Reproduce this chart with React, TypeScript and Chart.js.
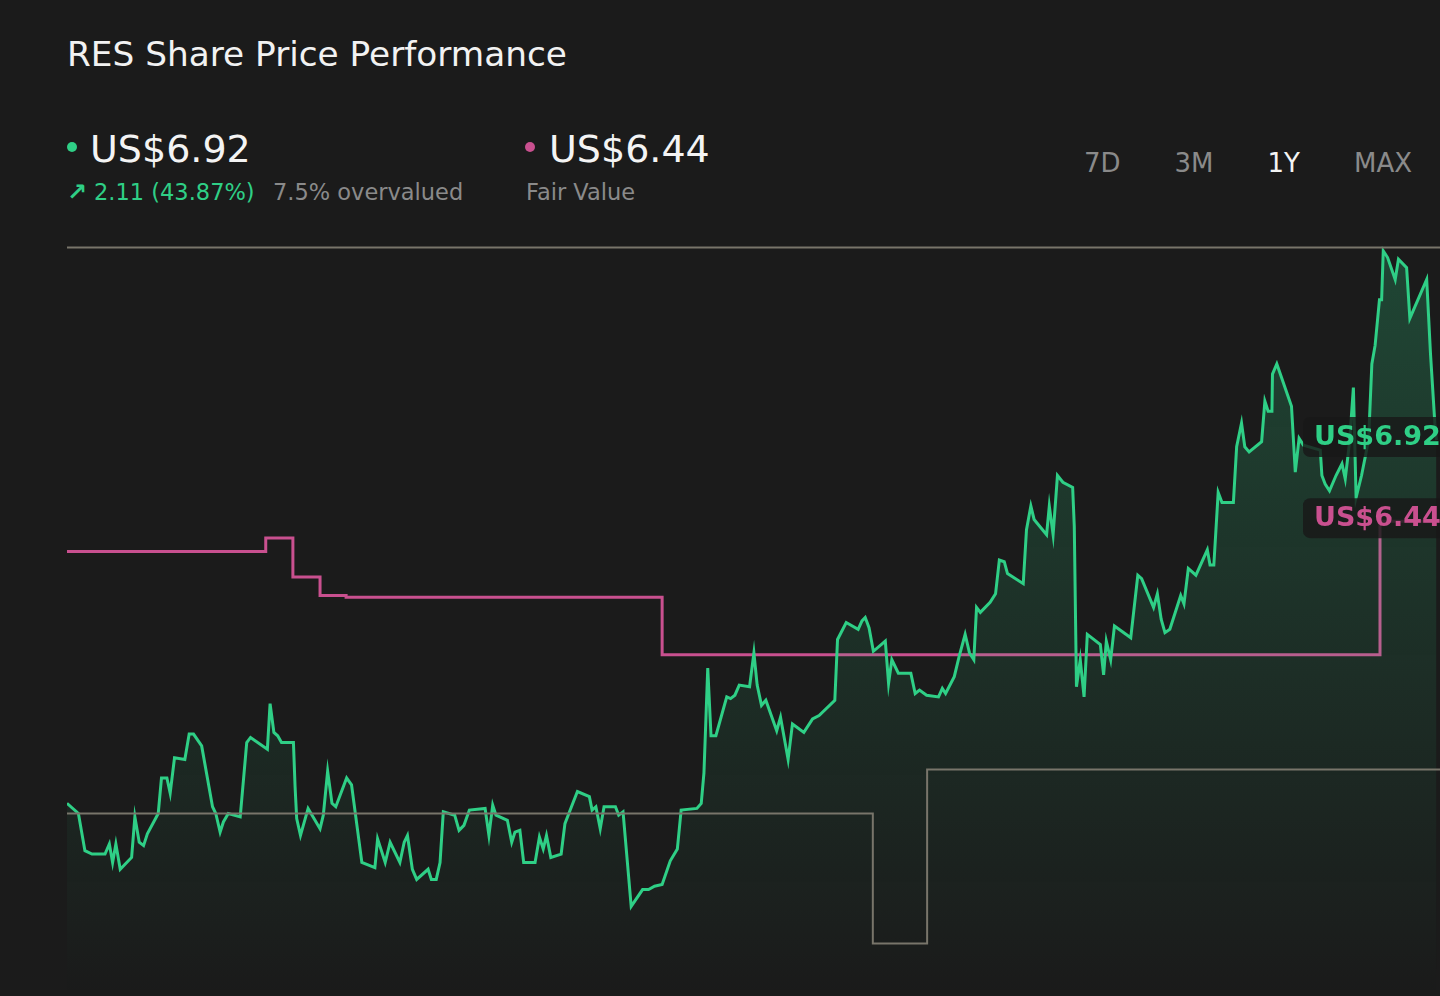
import { useEffect, useRef } from "react";
import { Chart, registerables } from "chart.js";

Chart.register(...registerables);

// trading day offsets (0 = one year ago) and closing prices
const days = [
  0, 2.1, 3.3, 4.6, 7.0, 7.8, 8.4, 9.0, 9.8, 11.9,
  12.5, 13.3, 14.1, 14.8, 16.8, 17.4, 18.4, 19.0, 19.8, 21.7,
  22.5, 23.3, 24.8, 26.8, 27.4, 28.2, 28.8, 29.7, 31.9, 33.1,
  33.8, 36.9, 37.4, 38.1, 38.8, 39.5, 41.7, 42.0, 42.3, 43.0,
  44.4, 46.6, 47.2, 48.0, 48.8, 49.5, 51.5, 52.4, 54.3, 56.7,
  57.2, 58.6, 59.5, 61.3, 62.1, 62.7, 63.6, 64.4, 66.5, 67.1,
  68.0, 68.7, 69.3, 71.4, 72.2, 73.1, 74.1, 77.0, 77.7, 78.4,
  79.0, 81.1, 81.9, 82.5, 83.4, 84.1, 86.2, 87.0, 87.7, 88.3,
  89.1, 91.0, 91.7, 92.9, 94.0, 96.2, 96.7, 97.4, 98.2, 98.9,
  101.0, 101.6, 102.4, 103.9, 106.0, 107.1, 108.2, 109.6, 111.1, 112.4,
  113.1, 116.0, 116.8, 117.3, 118.0, 118.6, 119.5, 121.5, 122.2, 123.0,
  123.8, 125.7, 126.5, 127.1, 127.9, 128.7, 130.7, 131.4, 132.8, 133.6,
  135.7, 137.3, 138.5, 141.4, 141.9, 143.5, 145.7, 146.4, 147.0, 147.7,
  148.5, 150.7, 151.3, 151.9, 153.1, 155.4, 156.2, 157.0, 158.3, 160.5,
  161.2, 161.8, 163.4, 164.3, 165.4, 166.2, 167.0, 167.5, 168.2, 170.0,
  171.0, 171.7, 172.6, 173.2, 176.1, 176.7, 177.5, 178.1, 180.4, 180.9,
  181.6, 182.4, 183.4, 185.2, 185.5, 185.9, 186.6, 187.3, 187.9, 190.3,
  190.9, 191.4, 192.2, 192.9, 195.9, 197.2, 197.9, 200.1, 200.8, 201.5,
  202.2, 203.1, 205.1, 205.7, 206.5, 207.9, 210.0, 210.5, 211.2, 212.0,
  212.7, 214.8, 215.4, 216.3, 216.9, 217.7, 220.0, 220.6, 221.2, 221.9,
  222.0, 222.8, 225.5, 226.2, 226.9, 227.7, 230.8, 231.1, 231.7, 232.5,
  233.7, 234.8, 235.4, 236.2, 236.9, 237.4, 238.4, 239.7, 240.3, 240.9,
  241.7, 242.1, 242.4, 243.2, 244.6, 245.2, 246.7, 247.3, 250.4, 251.1,
  251.9, 252.2,
];

const prices = [
  4.77, 4.71, 4.49, 4.47, 4.47, 4.53, 4.42, 4.53, 4.38, 4.45,
  4.69, 4.54, 4.52, 4.59, 4.71, 4.92, 4.92, 4.83, 5.04, 5.03,
  5.18, 5.18, 5.11, 4.75, 4.71, 4.60, 4.66, 4.71, 4.69, 5.13,
  5.16, 5.09, 5.36, 5.19, 5.17, 5.13, 5.13, 4.87, 4.68, 4.58,
  4.74, 4.62, 4.70, 4.96, 4.77, 4.75, 4.92, 4.88, 4.42, 4.39,
  4.56, 4.42, 4.54, 4.42, 4.54, 4.58, 4.38, 4.32, 4.38, 4.32,
  4.32, 4.42, 4.72, 4.70, 4.61, 4.64, 4.73, 4.74, 4.58, 4.76,
  4.70, 4.67, 4.54, 4.60, 4.61, 4.42, 4.42, 4.57, 4.50, 4.58,
  4.45, 4.47, 4.65, 4.75, 4.84, 4.81, 4.73, 4.75, 4.62, 4.75,
  4.75, 4.70, 4.72, 4.16, 4.26, 4.26, 4.28, 4.29, 4.43, 4.50,
  4.73, 4.74, 4.77, 4.95, 5.57, 5.17, 5.17, 5.40, 5.39, 5.41,
  5.47, 5.46, 5.66, 5.47, 5.35, 5.38, 5.20, 5.28, 5.03, 5.24,
  5.19, 5.27, 5.29, 5.38, 5.74, 5.84, 5.80, 5.85, 5.87, 5.81,
  5.67, 5.73, 5.48, 5.62, 5.54, 5.54, 5.42, 5.44, 5.41, 5.40,
  5.45, 5.42, 5.52, 5.64, 5.77, 5.66, 5.62, 5.93, 5.90, 5.96,
  6.01, 6.21, 6.20, 6.13, 6.07, 6.39, 6.53, 6.45, 6.36, 6.53,
  6.36, 6.71, 6.67, 6.64, 6.41, 5.46, 5.62, 5.40, 5.77, 5.71,
  5.53, 5.73, 5.62, 5.82, 5.75, 6.12, 6.10, 5.93, 6.01, 5.86,
  5.78, 5.80, 6.00, 5.95, 6.16, 6.12, 6.27, 6.18, 6.18, 6.61,
  6.55, 6.55, 6.88, 7.02, 6.88, 6.85, 6.91, 7.15, 7.09, 7.09,
  7.31, 7.37, 7.12, 6.73, 6.93, 6.89, 6.86, 6.71, 6.66, 6.62,
  6.71, 6.78, 6.69, 6.91, 7.23, 6.58, 6.71, 6.92, 7.37, 7.48,
  7.75, 7.75, 8.04, 8.00, 7.87, 7.99, 7.94, 7.64, 7.87, 7.43,
  7.02, 6.92,
];

// fair value estimate changes (day it changed, new value)
const fairValueDays = [0, 36.6, 41.6, 46.6, 51.4, 109.6, 241.8];
const fairValues = [6.26, 6.34, 6.11, 6.0, 5.99, 5.65, 6.44];

// grey reference step line
const refDays = [0, 148.4, 158.4];
const refValues = [4.71, 3.94, 4.97];
const highValue = 8.06;

const periods = ["7D", "3M", "1Y", "MAX"];
const activePeriod = "1Y";

const X_MAX = 252.85;
const Y_MIN = 3.63;
const Y_MAX = 8.163;

const GREEN = "#2fcf86";
const PINK = "#c9508f";
const GREY = "#78756a";
const FONT = "'DejaVu Sans', Verdana, sans-serif";

const lastPrice = prices[prices.length - 1];
const lastFair = fairValues[fairValues.length - 1];

function steps(xs: number[], ys: number[]) {
  const pts = xs.map((x, i) => ({ x, y: ys[i] }));
  pts.push({ x: X_MAX, y: ys[ys.length - 1] });
  return pts;
}

const valueTags = {
  id: "valueTags",
  afterDatasetsDraw(chart: Chart) {
    const { ctx, chartArea, scales } = chart;
    const tags = [
      { value: lastPrice, color: GREEN },
      { value: lastFair, color: PINK },
    ];
    ctx.save();
    tags.forEach((t) => {
      const y = scales.y.getPixelForValue(t.value) - 3;
      const left = chartArea.right - 137;
      ctx.fillStyle = "rgba(24,25,24,0.82)";
      ctx.beginPath();
      ctx.roundRect(left, y - 20, 170, 40, 7);
      ctx.fill();
      ctx.font = `bold 27px ${FONT}`;
      ctx.fillStyle = t.color;
      ctx.textBaseline = "middle";
      ctx.fillText(`US$${t.value.toFixed(2)}`, left + 11, y + 1);
    });
    ctx.restore();
  },
};

function PriceChart() {
  const chartRef = useRef<HTMLCanvasElement>(null);
  const chartInstance = useRef<Chart | null>(null);

  useEffect(() => {
    if (!chartRef.current) return;
    if (chartInstance.current) chartInstance.current.destroy();
    const ctx = chartRef.current.getContext("2d");
    if (!ctx) return;

    chartInstance.current = new Chart(ctx, {
      type: "line",
      data: {
        datasets: [
          {
            label: "High",
            data: [
              { x: 0, y: highValue },
              { x: X_MAX, y: highValue },
            ],
            borderColor: GREY,
            borderWidth: 2,
            pointRadius: 0,
            order: 0,
          },
          {
            label: "Reference",
            data: steps(refDays, refValues),
            stepped: "before",
            borderColor: GREY,
            borderWidth: 2,
            pointRadius: 0,
            order: 0,
          },
          {
            label: "Share Price",
            data: days.map((d, i) => ({ x: d, y: prices[i] })),
            borderColor: GREEN,
            borderWidth: 3,
            pointRadius: 0,
            tension: 0,
            fill: "start",
            backgroundColor: (c: any) => {
              const area = c.chart.chartArea;
              if (!area) return "transparent";
              const g = c.chart.ctx.createLinearGradient(0, area.top, 0, area.bottom);
              g.addColorStop(0, "rgba(47,207,134,0.25)");
              g.addColorStop(1, "rgba(47,207,134,0)");
              return g;
            },
            order: 1,
          },
          {
            label: "Fair Value",
            data: steps(fairValueDays, fairValues),
            stepped: "before",
            borderColor: PINK,
            borderWidth: 3,
            pointRadius: 0,
            order: 2,
          },
        ],
      },
      options: {
        animation: false,
        responsive: true,
        maintainAspectRatio: false,
        layout: { padding: 0 },
        scales: {
          x: { type: "linear", min: 0, max: X_MAX, display: false },
          y: { min: Y_MIN, max: Y_MAX, display: false },
        },
        plugins: {
          legend: { display: false },
          tooltip: { enabled: false },
        },
      },
      plugins: [valueTags],
    });

    return () => {
      if (chartInstance.current) {
        chartInstance.current.destroy();
        chartInstance.current = null;
      }
    };
  }, []);

  return (
    <div style={{ position: "absolute", left: 67, top: 230, width: 1373, height: 766 }}>
      <canvas ref={chartRef} />
    </div>
  );
}

const abs = (left: number, top: number, size: number, color: string): React.CSSProperties => ({
  position: "absolute",
  left,
  top,
  fontSize: size,
  lineHeight: 1,
  color,
  whiteSpace: "nowrap",
});

export default function App() {
  useEffect(() => {
    document.body.style.margin = "0";
    document.body.style.background = "#1b1b1b";
  }, []);

  return (
    <div
      style={{
        position: "absolute",
        left: 0,
        top: 0,
        width: 1440,
        height: 996,
        background: "#1b1b1b",
        fontFamily: FONT,
        overflow: "hidden",
      }}
    >
      <div style={abs(67, 37, 34.3, "#f2f2f2")}>RES Share Price Performance</div>

      <div style={{ position: "absolute", left: 67, top: 142, width: 10, height: 10, borderRadius: 5, background: GREEN }} />
      <div style={abs(90, 130, 38, "#f4f4f4")}>US${lastPrice.toFixed(2)}</div>
      <div style={{ ...abs(67, 180, 24, GREEN), fontWeight: "bold" }}>↗</div>
      <div style={abs(94, 181, 22.5, GREEN)}>2.11 (43.87%)</div>
      <div style={abs(273, 181, 22.5, "#8a8a8a")}>7.5% overvalued</div>

      <div style={{ position: "absolute", left: 525, top: 142, width: 10, height: 10, borderRadius: 5, background: PINK }} />
      <div style={abs(549, 130, 38, "#f4f4f4")}>US${lastFair.toFixed(2)}</div>
      <div style={abs(526, 181, 22.5, "#8a8a8a")}>Fair Value</div>

      <div style={{ position: "absolute", left: 1084, top: 150, display: "flex", gap: 54 }}>
        {periods.map((p) => (
          <span
            key={p}
            style={{ fontSize: 26, lineHeight: 1, color: p === activePeriod ? "#f4f4f4" : "#8a8a8a" }}
          >
            {p}
          </span>
        ))}
      </div>

      <PriceChart />
    </div>
  );
}
